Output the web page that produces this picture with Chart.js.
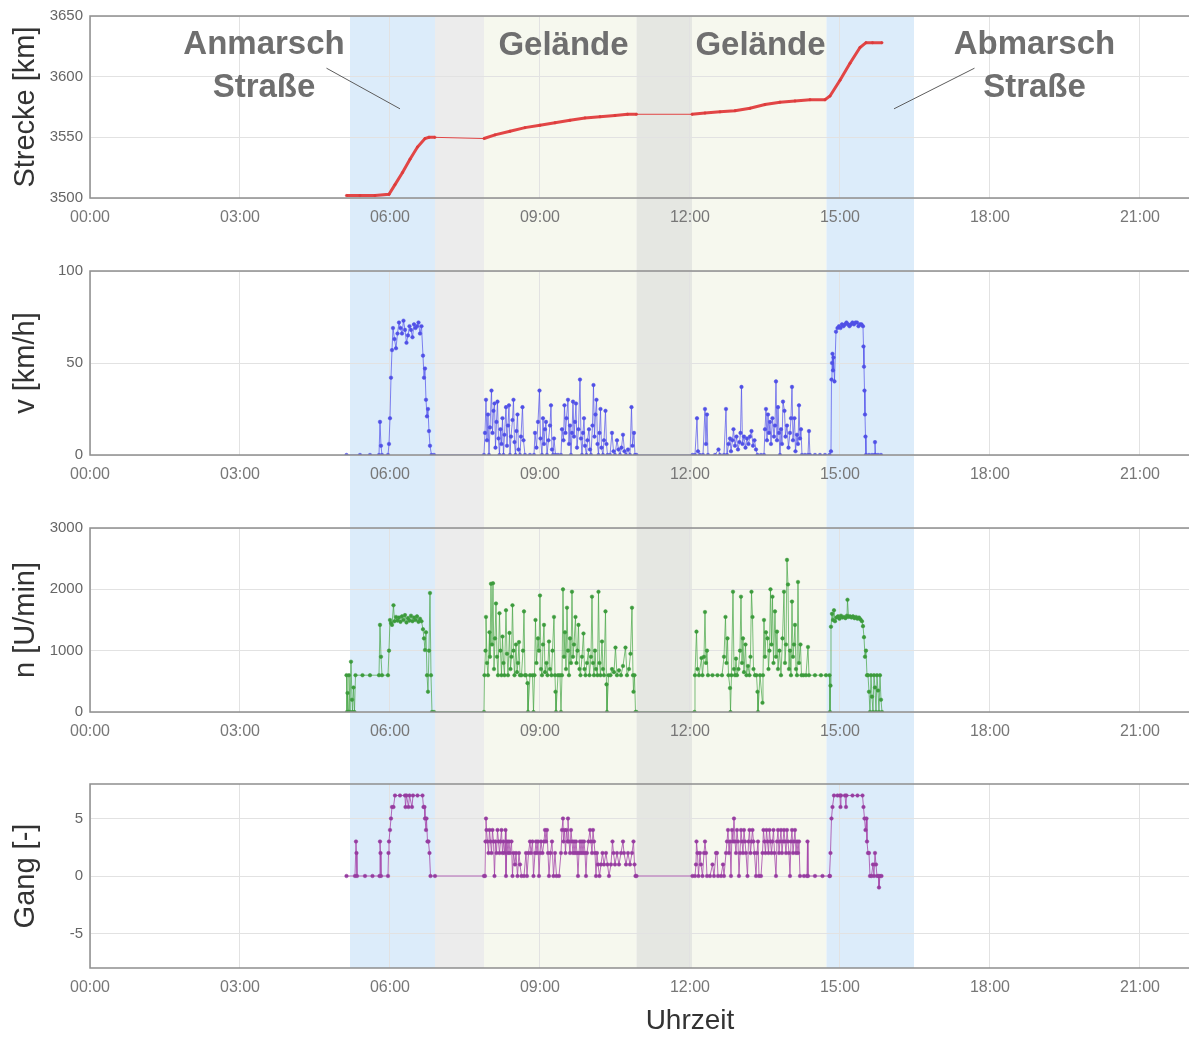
<!DOCTYPE html>
<html>
<head>
<meta charset="utf-8">
<script src="https://cdn.jsdelivr.net/npm/chart.js@4"></script>
<style>
  html, body { margin: 0; padding: 0; background: #fff; overflow: hidden; }
  canvas { display: block; }
</style>
</head>
<body>
<canvas id="cDist" width="1320" height="245"></canvas>
<canvas id="cSpeed" width="1320" height="257"></canvas>
<canvas id="cRpm" width="1320" height="256"></canvas>
<canvas id="cGear" width="1320" height="280"></canvas>
<script>
// phases of the day, in hours
const phaseStart = [5.2, 6.9, 7.88, 10.93, 12.04, 14.73];
const phaseEnd   = [6.9, 7.88, 10.93, 12.04, 14.73, 16.48];
const phaseKind  = ['road', 'break', 'terrain', 'stop', 'terrain', 'road'];

const hourTicks = [0, 3, 6, 9, 12, 15, 18, 21, 24];

// [hour, km]
const distData = [[5.13,3502],[5.4,3502],[5.7,3502],[5.98,3503],[6.1,3511],[6.25,3521],[6.4,3532],[6.55,3542],[6.7,3549],[6.78,3550],[6.9,3550],
  [7.88,3549],[8.1,3552],[8.4,3555],[8.7,3558],[9.0,3560],[9.3,3562],[9.6,3564],[9.9,3566],[10.2,3567],[10.5,3568],[10.75,3569],[10.93,3569],
  [12.04,3569],[12.3,3570],[12.6,3571],[12.9,3572],[13.2,3574],[13.5,3577],[13.8,3579],[14.1,3580],[14.4,3581],[14.7,3581],
  [14.8,3584],[15.0,3597],[15.2,3611],[15.4,3624],[15.52,3628],[15.65,3628],[15.84,3628]];

// [hour, km/h]
const speedData = [[5.13,0],[5.4,0],[5.6,0],[5.78,0],[5.8,18],[5.82,5],[5.84,0],[5.96,0],[5.98,6],[6.0,20],[6.02,42],[6.04,57],[6.06,69],[6.09,63],[6.12,58],[6.15,66],[6.18,72],[6.21,69],[6.24,66],[6.27,73],[6.3,68],[6.33,61],[6.36,65],[6.39,70],[6.42,68],[6.45,64],[6.48,71],[6.51,69],[6.54,70],[6.57,72],[6.6,66],[6.63,70],[6.66,54],[6.68,42],[6.7,47],[6.72,30],[6.74,21],[6.76,25],[6.78,13],[6.8,5],[6.83,0],[6.88,0],
  [7.88,0],[7.9,12],[7.92,30],[7.94,8],[7.96,22],[7.98,0],[8.0,15],[8.03,35],[8.05,12],[8.07,24],[8.09,28],[8.11,4],[8.13,18],[8.15,29],[8.17,9],[8.19,0],[8.21,14],[8.23,6],[8.25,20],[8.27,0],[8.29,11],[8.32,26],[8.34,5],[8.36,16],[8.38,27],[8.4,0],[8.42,10],[8.45,19],[8.47,30],[8.49,7],[8.51,0],[8.53,13],[8.55,22],[8.57,3],[8.6,0],[8.62,10],[8.65,26],[8.67,8],[8.7,0],[8.8,0],[8.88,0],
  [8.9,12],[8.93,4],[8.96,18],[8.99,35],[9.01,9],[9.04,0],[9.06,20],[9.08,6],[9.1,14],[9.12,18],[9.14,0],[9.17,8],[9.2,16],[9.22,27],[9.24,3],[9.26,0],[9.28,9],[9.31,0],[9.36,0],[9.42,0],
  [9.44,14],[9.47,8],[9.49,27],[9.51,12],[9.53,20],[9.56,30],[9.58,6],[9.6,16],[9.62,0],[9.64,12],[9.66,29],[9.68,10],[9.7,18],[9.72,28],[9.74,4],[9.77,14],[9.8,41],[9.82,9],[9.84,0],[9.86,12],[9.88,20],[9.9,5],[9.93,0],[9.95,8],[9.98,14],[10.0,3],[10.02,0],[10.05,16],[10.07,38],[10.09,10],[10.11,22],[10.13,30],[10.15,6],[10.17,0],[10.19,12],[10.21,25],[10.23,4],[10.26,0],[10.28,8],[10.31,24],[10.33,6],[10.35,0],
  [10.4,0],[10.44,12],[10.47,2],[10.5,0],[10.54,8],[10.57,3],[10.6,0],[10.63,4],[10.66,11],[10.69,2],[10.72,0],[10.76,3],[10.8,0],[10.83,26],[10.85,5],[10.88,12],[10.9,0],[10.93,0],
  [12.05,0],[12.1,0],[12.14,20],[12.16,2],[12.2,0],[12.26,0],[12.3,25],[12.32,6],[12.34,22],[12.36,0],[12.5,0],[12.57,3],[12.6,0],[12.68,0],[12.72,25],[12.74,0],[12.77,6],[12.8,9],[12.82,2],[12.85,8],[12.87,14],[12.9,5],[12.93,10],[12.96,3],[12.99,7],[13.01,12],[13.03,37],[13.05,6],[13.08,10],[13.11,4],[13.14,9],[13.17,6],[13.2,10],[13.23,13],[13.26,5],[13.29,8],[13.32,3],[13.35,0],[13.42,0],[13.48,0],
  [13.5,14],[13.52,25],[13.54,8],[13.56,22],[13.58,12],[13.6,18],[13.62,6],[13.65,20],[13.68,10],[13.7,16],[13.72,40],[13.74,8],[13.76,26],[13.78,12],[13.8,0],[13.82,14],[13.84,6],[13.86,29],[13.89,24],[13.91,10],[13.94,16],[13.97,4],[14.0,12],[14.02,20],[14.04,37],[14.06,8],[14.09,20],[14.11,2],[14.14,11],[14.16,6],[14.18,27],[14.2,9],[14.22,14],[14.24,0],[14.3,0],[14.36,0],[14.38,13],[14.4,0],[14.5,0],[14.6,0],[14.7,0],[14.79,0],
  [14.82,2],[14.83,41],[14.84,50],[14.85,55],[14.86,46],[14.87,53],[14.89,40],[14.92,67],[14.95,69],[14.98,70],[15.01,69],[15.04,71],[15.07,70],[15.1,71],[15.13,72],[15.16,71],[15.19,70],[15.22,71],[15.25,72],[15.28,71],[15.31,72],[15.34,72],[15.37,70],[15.4,71],[15.43,71],[15.46,70],[15.47,59],[15.48,48],[15.49,35],[15.5,22],[15.51,10],[15.52,0],[15.58,0],[15.64,0],[15.69,0],[15.7,7],[15.71,0],[15.76,0],[15.82,0]];

// [hour, U/min]
const rpmData = [[5.13,600],[5.14,0],[5.15,310],[5.17,0],[5.18,600],[5.2,0],[5.22,820],[5.24,200],[5.25,0],[5.27,400],[5.29,0],[5.31,600],[5.45,600],[5.6,600],[5.78,600],[5.8,1420],[5.82,900],[5.84,600],[5.96,600],[5.98,1000],[6.0,1500],[6.02,1450],[6.04,1420],[6.07,1740],[6.09,1480],[6.12,1550],[6.15,1490],[6.18,1540],[6.21,1470],[6.24,1560],[6.27,1500],[6.3,1580],[6.33,1460],[6.36,1530],[6.39,1490],[6.42,1570],[6.45,1480],[6.48,1540],[6.51,1500],[6.54,1560],[6.57,1470],[6.6,1520],[6.63,1480],[6.66,1350],[6.68,1200],[6.7,1010],[6.72,1300],[6.74,600],[6.76,330],[6.78,1000],[6.8,1940],[6.82,600],[6.84,0],[6.88,0],
  [7.88,0],[7.89,600],[7.91,1000],[7.92,1550],[7.94,800],[7.96,600],[7.99,1300],[8.0,900],[8.02,2090],[8.04,1100],[8.06,2100],[8.08,700],[8.1,1200],[8.12,1770],[8.14,900],[8.16,600],[8.19,1610],[8.21,1000],[8.23,600],[8.25,1230],[8.27,800],[8.29,600],[8.32,1660],[8.34,950],[8.36,600],[8.39,1290],[8.41,700],[8.43,900],[8.45,1740],[8.47,1000],[8.49,600],[8.52,1100],[8.54,650],[8.56,800],[8.58,1140],[8.6,600],[8.63,600],[8.66,1000],[8.68,1640],[8.7,600],[8.72,600],[8.75,470],[8.76,0],[8.8,600],[8.85,600],[8.87,0],
  [8.89,600],[8.91,1500],[8.93,800],[8.96,1200],[8.98,1000],[9.0,1900],[9.02,700],[9.04,600],[9.06,1100],[9.08,1420],[9.1,650],[9.13,800],[9.15,600],[9.18,1150],[9.2,700],[9.23,600],[9.25,1000],[9.28,1550],[9.3,600],[9.31,330],[9.32,0],[9.36,600],[9.4,600],[9.42,0],
  [9.44,600],[9.46,2000],[9.48,900],[9.5,1300],[9.52,700],[9.54,1700],[9.56,1000],[9.58,600],[9.6,1200],[9.62,800],[9.64,1960],[9.66,900],[9.68,1100],[9.71,1550],[9.73,800],[9.75,1000],[9.77,1420],[9.79,700],[9.81,600],[9.84,900],[9.87,1280],[9.89,700],[9.91,600],[9.94,800],[9.97,1010],[9.99,600],[10.02,900],[10.04,1880],[10.06,800],[10.08,600],[10.1,1000],[10.12,700],[10.15,600],[10.17,1960],[10.19,800],[10.21,600],[10.24,1150],[10.26,700],[10.28,600],[10.31,1640],[10.33,450],[10.34,0],
  [10.37,600],[10.41,600],[10.44,700],[10.48,650],[10.51,1050],[10.54,600],[10.58,680],[10.62,600],[10.66,750],[10.71,1050],[10.74,600],[10.78,700],[10.81,950],[10.84,1700],[10.86,600],[10.87,330],[10.89,600],[10.91,0],[10.93,0],
  [12.09,0],[12.1,600],[12.13,1310],[12.15,700],[12.18,600],[12.23,880],[12.25,600],[12.28,900],[12.3,1630],[12.32,800],[12.34,1000],[12.36,600],[12.45,600],[12.55,600],[12.64,600],[12.68,900],[12.71,1550],[12.73,800],[12.75,1200],[12.77,600],[12.8,390],[12.81,0],[12.83,600],[12.86,1960],[12.88,700],[12.9,600],[12.92,870],[12.94,600],[12.97,700],[13.0,1000],[13.02,1880],[13.04,800],[13.06,1200],[13.08,650],[13.11,1100],[13.13,600],[13.16,750],[13.19,600],[13.21,900],[13.23,1960],[13.25,1550],[13.27,700],[13.3,600],[13.33,600],[13.35,330],[13.36,0],[13.4,600],[13.45,150],
  [13.46,600],[13.48,1500],[13.5,900],[13.52,1300],[13.55,1200],[13.57,700],[13.59,1000],[13.61,2000],[13.63,1100],[13.65,1880],[13.67,800],[13.7,1640],[13.72,900],[13.74,1310],[13.76,700],[13.79,1000],[13.82,600],[13.85,1200],[13.88,1960],[13.9,800],[13.92,1100],[13.94,2480],[13.96,2080],[13.98,700],[14.0,1000],[14.02,600],[14.04,1800],[14.06,900],[14.08,1100],[14.1,1420],[14.12,700],[14.14,600],[14.16,2120],[14.18,800],[14.21,1100],[14.23,600],[14.27,600],[14.32,600],[14.36,1060],[14.38,600],[14.5,600],[14.62,600],[14.72,600],[14.79,600],
  [14.8,0],[14.81,430],[14.82,1390],[14.84,1600],[14.86,1500],[14.88,1660],[14.9,1480],[14.93,1540],[14.96,1560],[14.99,1520],[15.02,1570],[15.05,1540],[15.08,1550],[15.11,1530],[15.14,1570],[15.15,1830],[15.17,1550],[15.2,1560],[15.23,1540],[15.26,1560],[15.29,1530],[15.32,1550],[15.35,1520],[15.38,1540],[15.41,1510],[15.44,1480],[15.46,1400],[15.48,1220],[15.5,900],[15.52,1000],[15.54,600],[15.56,600],[15.58,330],[15.6,0],[15.62,600],[15.64,250],[15.66,0],[15.68,600],[15.7,400],[15.72,0],[15.74,600],[15.76,350],[15.78,0],[15.8,600],[15.82,200],[15.84,0]];

// [hour, gear]
const gearData = [[5.13,0],[5.3,0],[5.32,3],[5.33,2],[5.34,0],[5.5,0],[5.65,0],[5.79,0],[5.8,3],[5.81,2],[5.82,0],[5.96,0],[5.97,2],[5.98,3],[6.0,4],[6.02,5],[6.04,6],[6.07,6],[6.1,7],[6.2,7],[6.3,7],[6.31,6],[6.33,7],[6.37,6],[6.39,7],[6.44,6],[6.46,7],[6.55,7],[6.65,7],[6.67,6],[6.69,6],[6.7,5],[6.72,4],[6.73,5],[6.75,3],[6.77,3],[6.79,2],[6.81,0],[6.9,0],
  [7.88,0],[7.9,0],[7.91,3],[7.92,5],[7.93,4],[7.95,3],[7.97,2],[7.99,4],[8.01,3],[8.03,2],[8.05,4],[8.07,3],[8.09,0],[8.11,3],[8.13,2],[8.15,4],[8.17,3],[8.19,2],[8.21,3],[8.23,4],[8.25,2],[8.27,3],[8.29,2],[8.31,4],[8.32,0],[8.34,3],[8.36,2],[8.38,3],[8.4,2],[8.43,3],[8.45,0],[8.47,2],[8.5,1],[8.52,2],[8.55,0],[8.58,2],[8.6,1],[8.63,0],[8.68,0],
  [8.72,2],[8.74,0],[8.77,2],[8.8,3],[8.82,2],[8.85,3],[8.87,0],[8.9,2],[8.92,3],[8.94,2],[8.96,3],[8.98,0],[9.0,2],[9.02,3],[9.05,2],[9.08,3],[9.1,4],[9.12,3],[9.14,4],[9.16,2],[9.18,0],[9.21,2],[9.24,3],[9.27,0],[9.3,2],[9.33,0],[9.38,0],
  [9.42,2],[9.44,4],[9.46,5],[9.47,3],[9.49,4],[9.51,2],[9.53,4],[9.55,3],[9.56,5],[9.58,3],[9.6,2],[9.62,4],[9.64,3],[9.66,2],[9.68,3],[9.7,2],[9.72,3],[9.74,2],[9.76,0],[9.78,2],[9.8,3],[9.82,2],[9.84,3],[9.86,2],[9.88,3],[9.9,2],[9.92,0],[9.94,2],[9.97,3],[10.0,4],[10.02,3],[10.04,2],[10.06,4],[10.08,3],[10.1,2],[10.12,0],
  [10.14,2],[10.16,1],[10.19,0],[10.22,1],[10.25,2],[10.28,1],[10.32,2],[10.35,1],[10.38,0],[10.42,1],[10.45,3],[10.47,2],[10.5,1],[10.54,2],[10.58,1],[10.62,2],[10.66,3],[10.68,2],[10.72,1],[10.76,2],[10.8,1],[10.84,2],[10.87,3],[10.89,1],[10.91,0],[10.93,0],
  [12.05,0],[12.1,0],[12.12,1],[12.13,3],[12.15,2],[12.17,0],[12.2,2],[12.22,1],[12.25,0],[12.28,2],[12.3,3],[12.32,2],[12.34,0],[12.4,0],[12.45,1],[12.48,0],[12.52,2],[12.54,2],[12.56,0],[12.62,0],[12.66,1],[12.68,0],
  [12.72,2],[12.74,3],[12.76,4],[12.78,2],[12.8,3],[12.82,0],[12.84,4],[12.86,3],[12.88,5],[12.9,3],[12.92,2],[12.94,4],[12.96,3],[12.98,0],[13.0,2],[13.02,4],[13.04,3],[13.06,2],[13.08,4],[13.1,3],[13.12,2],[13.15,0],[13.17,3],[13.19,4],[13.21,2],[13.23,3],[13.25,4],[13.27,3],[13.29,2],[13.32,0],[13.34,2],[13.36,3],[13.38,0],[13.42,0],
  [13.45,2],[13.47,4],[13.49,3],[13.51,2],[13.53,4],[13.55,3],[13.57,2],[13.59,4],[13.61,3],[13.63,2],[13.65,3],[13.67,4],[13.69,2],[13.72,0],[13.74,3],[13.76,4],[13.78,2],[13.8,3],[13.82,4],[13.84,2],[13.86,3],[13.88,4],[13.9,3],[13.92,2],[13.94,4],[13.96,3],[13.98,2],[14.0,0],[14.02,3],[14.04,4],[14.06,2],[14.08,3],[14.1,4],[14.12,2],[14.14,3],[14.16,2],[14.18,3],[14.2,0],[14.28,0],[14.34,0],[14.35,3],[14.36,0],[14.5,0],[14.65,0],[14.79,0],
  [14.8,0],[14.81,2],[14.83,5],[14.85,6],[14.88,7],[14.95,7],[15.0,7],[15.01,6],[15.02,7],[15.1,7],[15.12,6],[15.13,7],[15.25,7],[15.35,7],[15.45,7],[15.47,6],[15.49,5],[15.51,4],[15.53,5],[15.54,3],[15.56,2],[15.58,2],[15.6,0],[15.63,0],[15.66,1],[15.68,0],[15.7,2],[15.72,1],[15.74,0],[15.77,0],[15.78,-1],[15.8,0],[15.83,0]];

Chart.defaults.font.family = "'Liberation Sans', Arial, sans-serif";

const phaseColor = { road: '#dcecfa', break: '#ececec', terrain: '#f6f8ee', stop: '#e5e7e2' };

const bandPlugin = {
  id: 'bands',
  beforeDraw(chart, args, opts) {
    const { ctx, chartArea, scales } = chart;
    const top = opts.fromArea ? chartArea.top : 0;
    const bottom = opts.toArea ? chartArea.bottom : chart.height;
    ctx.save();
    phaseStart.forEach((s, i) => {
      const x0 = scales.x.getPixelForValue(s);
      const x1 = scales.x.getPixelForValue(phaseEnd[i]);
      ctx.fillStyle = phaseColor[phaseKind[i]];
      ctx.fillRect(x0, top, x1 - x0, bottom - top);
    });
    ctx.restore();
  }
};

const framePlugin = {
  id: 'frame',
  afterDraw(chart) {
    const { ctx, chartArea: a } = chart;
    ctx.save();
    ctx.strokeStyle = '#8e8e8e';
    ctx.lineWidth = 1.5;
    ctx.strokeRect(a.left, a.top, a.right - a.left, a.bottom - a.top);
    ctx.restore();
  }
};

const notePlugin = {
  id: 'notes',
  afterDraw(chart, args, opts) {
    if (!opts.labels) return;
    const { ctx, scales: { x, y } } = chart;
    ctx.save();
    ctx.strokeStyle = '#5c5c5c';
    ctx.lineWidth = 1;
    opts.leaders.forEach(l => {
      ctx.beginPath();
      ctx.moveTo(x.getPixelForValue(l[0]), y.getPixelForValue(l[1]));
      ctx.lineTo(x.getPixelForValue(l[2]), y.getPixelForValue(l[3]));
      ctx.stroke();
    });
    ctx.font = "bold 33px 'Liberation Sans', Arial, sans-serif";
    ctx.fillStyle = '#6f6f6f';
    ctx.textAlign = 'center';
    ctx.textBaseline = 'middle';
    opts.labels.forEach(n => ctx.fillText(n.text, x.getPixelForValue(n.at[0]), y.getPixelForValue(n.at[1])));
    ctx.restore();
  }
};

function xAxis(height, withTitle) {
  return {
    type: 'linear', min: 0, max: 24,
    afterFit: s => { s.height = height; },
    afterBuildTicks: s => { s.ticks = hourTicks.map(v => ({ value: v })); },
    grid: { color: '#e2e2e2', drawTicks: false },
    border: { display: false },
    ticks: { maxRotation: 0, autoSkip: false, padding: 10, color: '#777', font: { size: 16 },
             callback: v => String(v).padStart(2, '0') + ':00' },
    title: { display: withTitle, text: 'Uhrzeit', color: '#333', font: { size: 28 }, padding: { top: 0, bottom: 0 } }
  };
}

function yAxis(title, min, max, step) {
  return {
    min, max,
    afterFit: s => { s.width = 90; },
    grid: { color: '#e2e2e2', drawTicks: false },
    border: { display: false },
    ticks: { stepSize: step, includeBounds: false, padding: 7, color: '#666', font: { size: 15 }, callback: v => String(v) },
    title: { display: true, text: title, color: '#333', font: { size: 29 }, padding: { top: 9, bottom: 0 } }
  };
}

function makeChart(id, series, style, y, xHeight, extra) {
  const thinGap = ctx => (ctx.p1.parsed.x - ctx.p0.parsed.x > 0.5 ? 1 : undefined);
  return new Chart(document.getElementById(id), {
    type: 'line',
    data: {
      datasets: [{
        data: series.map(p => ({ x: p[0], y: p[1] })),
        borderColor: style.line,
        borderWidth: style.width,
        pointRadius: style.radius,
        pointBackgroundColor: style.point,
        pointBorderColor: style.point,
        pointBorderWidth: 0.5,
        tension: 0,
        segment: { borderWidth: thinGap }
      }]
    },
    options: {
      responsive: false,
      animation: false,
      layout: { padding: { top: extra.top, right: 24, bottom: 0, left: 0 } },
      scales: { x: xAxis(xHeight, extra.title), y },
      plugins: {
        legend: { display: false },
        tooltip: { enabled: false },
        bands: { fromArea: !!extra.fromArea, toArea: !!extra.toArea },
        notes: extra.notes || {}
      }
    },
    plugins: [bandPlugin, framePlugin, notePlugin]
  });
}

makeChart('cDist', distData,
  { line: 'rgb(226,70,70)', point: 'rgb(220,60,60)', width: 3, radius: 1.2 },
  yAxis('Strecke [km]', 3500, 3650, 50), 47,
  { top: 14, fromArea: true,
    notes: {
      labels: [
        { text: 'Anmarsch', at: [3.48, 3626.5] },
        { text: 'Straße', at: [3.48, 3590.5] },
        { text: 'Gelände', at: [9.47, 3625] },
        { text: 'Gelände', at: [13.41, 3625] },
        { text: 'Abmarsch', at: [18.89, 3626.5] },
        { text: 'Straße', at: [18.89, 3590.5] }
      ],
      leaders: [[4.73, 3607, 6.2, 3573.5], [17.69, 3607, 16.08, 3573.5]]
    } });

makeChart('cSpeed', speedData,
  { line: 'rgba(80,80,235,0.7)', point: 'rgb(80,80,230)', width: 1, radius: 1.8 },
  yAxis('v [km/h]', 0, 100, 50), 47, { top: 26 });

makeChart('cRpm', rpmData,
  { line: 'rgba(70,165,70,0.7)', point: 'rgb(60,155,60)', width: 1, radius: 1.8 },
  yAxis('n [U/min]', 0, 3000, 1000), 46, { top: 26 });

makeChart('cGear', gearData,
  { line: 'rgba(165,70,170,0.8)', point: 'rgb(150,60,160)', width: 1, radius: 1.8 },
  yAxis('Gang [-]', -8, 8, 5), 70, { top: 26, toArea: true, title: true });
</script>
</body>
</html>
